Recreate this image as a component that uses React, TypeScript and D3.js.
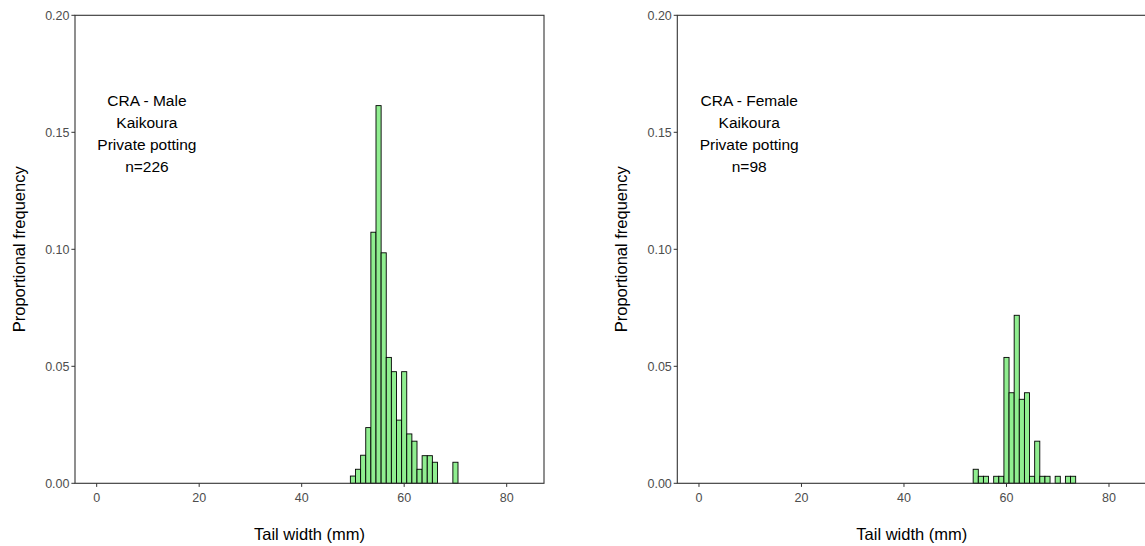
import React from "react";
import * as d3 from "d3";

const maleBins = [50, 51, 52, 53, 54, 55, 56, 57, 58, 59, 60, 61, 62, 63, 64, 65, 66, 70];
const maleFreq = [0.0031, 0.006, 0.012, 0.0238, 0.1073, 0.1614, 0.0985, 0.0538, 0.0477, 0.027, 0.0477, 0.0211, 0.018, 0.006, 0.0118, 0.0118, 0.009, 0.009];

const femaleBins = [54, 55, 56, 58, 59, 60, 61, 62, 63, 64, 65, 66, 67, 68, 70, 72, 73];
const femaleFreq = [0.006, 0.003, 0.003, 0.003, 0.003, 0.0538, 0.0387, 0.0718, 0.0359, 0.0387, 0.003, 0.018, 0.003, 0.003, 0.003, 0.003, 0.003];

const xTicks = [0, 20, 40, 60, 80];
const yTicks = [0, 0.05, 0.1, 0.15, 0.2];

const maleLabel = ["CRA - Male", "Kaikoura", "Private potting", "n=226"];
const femaleLabel = ["CRA - Female", "Kaikoura", "Private potting", "n=98"];

const FONT = "'Liberation Sans', Arial, sans-serif";

type PanelProps = {
  left: number;
  bins: number[];
  freq: number[];
  label: string[];
};

function Panel({ left, bins, freq, label }: PanelProps) {
  const width = 469;
  const top = 15.3;
  const bottom = 483.3;
  const x = d3.scaleLinear().domain([-4.23, 87.28]).range([left, left + width]);
  const y = d3.scaleLinear().domain([0, 0.2]).range([bottom, top]);
  const fmt = d3.format(".2f");
  const labelX = x(9.8);
  return (
    <g>
      {bins.map((b, i) => (
        <rect
          key={b}
          x={x(b - 0.5)}
          y={y(freq[i])}
          width={x(b + 0.5) - x(b - 0.5)}
          height={y(0) - y(freq[i])}
          fill="#90EE90"
          stroke="#000"
          strokeWidth={0.9}
        />
      ))}
      <rect x={left} y={top} width={width} height={bottom - top} fill="none" stroke="#333" strokeWidth={1.1} />
      {yTicks.map((t) => (
        <g key={t}>
          <line x1={left - 3.6} x2={left} y1={y(t)} y2={y(t)} stroke="#333" strokeWidth={1} />
          <text x={left - 5.5} y={y(t)} dy="0.35em" textAnchor="end" fontSize={12.5} fill="#4d4d4d" fontFamily={FONT}>
            {fmt(t)}
          </text>
        </g>
      ))}
      {xTicks.map((t) => (
        <g key={t}>
          <line x1={x(t)} x2={x(t)} y1={bottom} y2={bottom + 3.6} stroke="#333" strokeWidth={1} />
          <text x={x(t)} y={bottom + 19} textAnchor="middle" fontSize={12.5} fill="#4d4d4d" fontFamily={FONT}>
            {t}
          </text>
        </g>
      ))}
      <text x={left + width / 2} y={540} textAnchor="middle" fontSize={16.5} fill="#000" fontFamily={FONT}>
        Tail width (mm)
      </text>
      <text
        transform={`translate(${left - 50},${(top + bottom) / 2}) rotate(-90)`}
        textAnchor="middle"
        fontSize={16.5}
        fill="#000"
        fontFamily={FONT}
      >
        Proportional frequency
      </text>
      {label.map((s, i) => (
        <text key={i} x={labelX} y={106 + i * 22} textAnchor="middle" fontSize={15.5} fill="#000" fontFamily={FONT}>
          {s}
        </text>
      ))}
    </g>
  );
}

export default function App() {
  return (
    <svg width={1145} height={546} style={{ position: "absolute", left: 0, top: 0, background: "#fff" }}>
      <rect x={0} y={0} width={1145} height={546} fill="#fff" />
      <Panel left={75} bins={maleBins} freq={maleFreq} label={maleLabel} />
      <Panel left={677.3} bins={femaleBins} freq={femaleFreq} label={femaleLabel} />
    </svg>
  );
}
